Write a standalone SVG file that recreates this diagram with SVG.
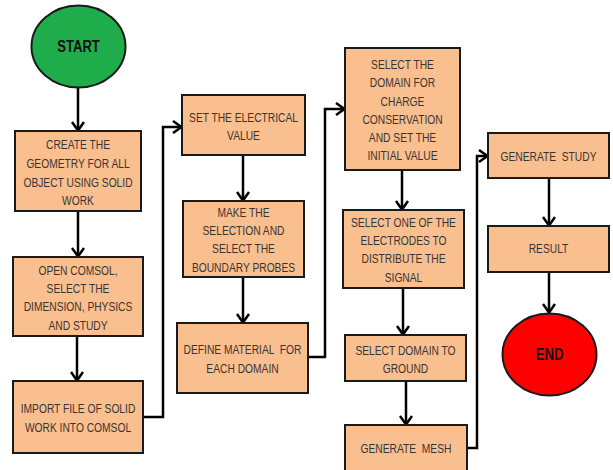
<svg xmlns="http://www.w3.org/2000/svg" width="613" height="470" viewBox="0 0 613 470">
<style>
.box{fill:#F9BF8F;stroke:#1a1a1a;stroke-width:2}
.t{font-family:"Liberation Sans",Arial,sans-serif;font-size:12.5px;fill:#3a3430;text-anchor:middle}
.pre{white-space:pre}
.term{font-family:"Liberation Sans",Arial,sans-serif;font-size:16px;font-weight:bold;fill:#111;text-anchor:middle}
.c{fill:none;stroke:#000;stroke-width:2.5}
</style>
<defs>
<marker id="ah" viewBox="0 0 12 14" refX="10.5" refY="7" markerWidth="12" markerHeight="14" markerUnits="userSpaceOnUse" orient="auto">
<path d="M1.5,1 L10,7 L1.5,13" fill="none" stroke="#000" stroke-width="2.5"/>
</marker>
</defs>
<rect width="613" height="470" fill="#fff"/>
<g id="connectors">
<line class="c" x1="78" y1="88" x2="78" y2="131" marker-end="url(#ah)"/>
<line class="c" x1="78" y1="211" x2="78" y2="257" marker-end="url(#ah)"/>
<line class="c" x1="77" y1="336" x2="77" y2="381" marker-end="url(#ah)"/>
<polyline class="c" points="143,417 163,417 163,127 182,127" marker-end="url(#ah)"/>
<line class="c" x1="243" y1="155" x2="243" y2="201" marker-end="url(#ah)"/>
<line class="c" x1="243" y1="277" x2="243" y2="323" marker-end="url(#ah)"/>
<polyline class="c" points="308,357 325,357 325,109 345,109" marker-end="url(#ah)"/>
<line class="c" x1="402" y1="170" x2="402" y2="210" marker-end="url(#ah)"/>
<line class="c" x1="403" y1="288" x2="403" y2="335" marker-end="url(#ah)"/>
<line class="c" x1="406" y1="381" x2="406" y2="425" marker-end="url(#ah)"/>
<polyline class="c" points="467,448 477,448 477,156 488,156" marker-end="url(#ah)"/>
<line class="c" x1="549" y1="178" x2="549" y2="226" marker-end="url(#ah)"/>
<line class="c" x1="549" y1="272" x2="549" y2="313" marker-end="url(#ah)"/>
</g>
<g id="start">
<ellipse cx="78.5" cy="46.5" rx="47" ry="41" fill="#1FAD4B" stroke="#1a1a1a" stroke-width="2"/>
<text class="term" transform="translate(78.5,0) scale(0.82,1)" x="0" y="52">START</text>
</g>
<g id="n1">
<rect class="box" x="15" y="131" width="126" height="80"/>
<g transform="translate(78,0) scale(0.82,1)">
<text class="t" x="0" y="149">CREATE THE</text>
<text class="t" x="0" y="168">GEOMETRY FOR ALL</text>
<text class="t" x="0" y="187">OBJECT USING SOLID</text>
<text class="t" x="0" y="205">WORK</text>
</g>
</g>
<g id="n2">
<rect class="box" x="13" y="257" width="130" height="79"/>
<g transform="translate(78,0) scale(0.82,1)">
<text class="t" x="0" y="275">OPEN COMSOL,</text>
<text class="t" x="0" y="293">SELECT THE</text>
<text class="t" x="0" y="311">DIMENSION, PHYSICS</text>
<text class="t" x="0" y="330">AND STUDY</text>
</g>
</g>
<g id="n3">
<rect class="box" x="13" y="381" width="130" height="72"/>
<g transform="translate(78,0) scale(0.82,1)">
<text class="t" x="0" y="413">IMPORT FILE OF SOLID</text>
<text class="t" x="0" y="432">WORK INTO COMSOL</text>
</g>
</g>
<g id="n4">
<rect class="box" x="182" y="95" width="123" height="60"/>
<g transform="translate(243.5,0) scale(0.82,1)">
<text class="t" x="0" y="122">SET THE ELECTRICAL</text>
<text class="t" x="0" y="140">VALUE</text>
</g>
</g>
<g id="n5">
<rect class="box" x="183" y="201" width="121" height="76"/>
<g transform="translate(243.5,0) scale(0.82,1)">
<text class="t" x="0" y="217">MAKE THE</text>
<text class="t" x="0" y="235">SELECTION AND</text>
<text class="t" x="0" y="253">SELECT THE</text>
<text class="t" x="0" y="272">BOUNDARY PROBES</text>
</g>
</g>
<g id="n6">
<rect class="box" x="177" y="323" width="131" height="70"/>
<g transform="translate(242.5,0) scale(0.82,1)">
<text class="t pre" x="0" y="354">DEFINE MATERIAL  FOR</text>
<text class="t" x="0" y="373">EACH DOMAIN</text>
</g>
</g>
<g id="n7">
<rect class="box" x="345" y="48" width="115" height="122"/>
<g transform="translate(402.5,0) scale(0.82,1)">
<text class="t" x="0" y="69">SELECT THE</text>
<text class="t" x="0" y="87">DOMAIN FOR</text>
<text class="t" x="0" y="106">CHARGE</text>
<text class="t" x="0" y="124">CONSERVATION</text>
<text class="t" x="0" y="142">AND SET THE</text>
<text class="t" x="0" y="160">INITIAL VALUE</text>
</g>
</g>
<g id="n8">
<rect class="box" x="343" y="210" width="121" height="78"/>
<g transform="translate(403.5,0) scale(0.82,1)">
<text class="t" x="0" y="227">SELECT ONE OF THE</text>
<text class="t" x="0" y="245">ELECTRODES TO</text>
<text class="t" x="0" y="263">DISTRIBUTE THE</text>
<text class="t" x="0" y="282">SIGNAL</text>
</g>
</g>
<g id="n9">
<rect class="box" x="345" y="335" width="121" height="46"/>
<g transform="translate(405.5,0) scale(0.82,1)">
<text class="t" x="0" y="355">SELECT DOMAIN TO</text>
<text class="t" x="0" y="373">GROUND</text>
</g>
</g>
<g id="n10">
<rect class="box" x="345" y="425" width="122" height="52"/>
<g transform="translate(406,0) scale(0.82,1)">
<text class="t pre" x="0" y="453">GENERATE  MESH</text>
</g>
</g>
<g id="n11">
<rect class="box" x="488" y="133" width="121" height="45"/>
<g transform="translate(548.5,0) scale(0.82,1)">
<text class="t pre" x="0" y="161">GENERATE  STUDY</text>
</g>
</g>
<g id="n12">
<rect class="box" x="488" y="226" width="121" height="46"/>
<g transform="translate(548.5,0) scale(0.82,1)">
<text class="t" x="0" y="253">RESULT</text>
</g>
</g>
<g id="end">
<ellipse cx="549.5" cy="354.5" rx="47" ry="41" fill="#FF0000" stroke="#1a1a1a" stroke-width="2"/>
<text class="term" transform="translate(549.5,0) scale(0.82,1)" x="0" y="360">END</text>
</g>
</svg>
